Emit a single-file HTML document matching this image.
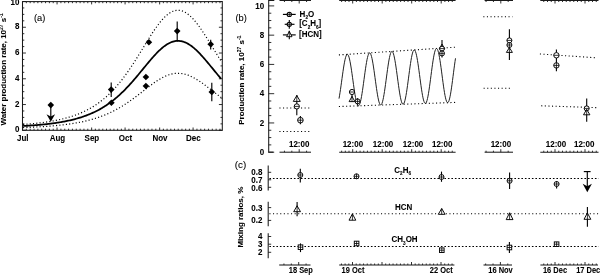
<!DOCTYPE html>
<html><head><meta charset="utf-8"><style>
html,body{margin:0;padding:0;background:#fff;}
svg{display:block;filter:grayscale(1);}
text{font-family:"Liberation Sans",sans-serif;fill:#000;stroke:#000;stroke-width:0.08px;}
</style></head><body>
<svg width="600" height="275" viewBox="0 0 600 275">
<rect width="600" height="275" fill="#fff"/>
<rect x="22.5" y="1.6" width="199.8" height="128.7" fill="none" stroke="#1a1a1a" stroke-width="1.05"/>
<line x1="22.5" y1="130.3" x2="25.9" y2="130.3" stroke="#1a1a1a" stroke-width="0.9" />
<line x1="222.3" y1="130.3" x2="218.9" y2="130.3" stroke="#1a1a1a" stroke-width="0.9" />
<line x1="22.5" y1="123.86" x2="24.3" y2="123.86" stroke="#1a1a1a" stroke-width="0.9" />
<line x1="222.3" y1="123.86" x2="220.5" y2="123.86" stroke="#1a1a1a" stroke-width="0.9" />
<line x1="22.5" y1="117.42" x2="24.3" y2="117.42" stroke="#1a1a1a" stroke-width="0.9" />
<line x1="222.3" y1="117.42" x2="220.5" y2="117.42" stroke="#1a1a1a" stroke-width="0.9" />
<line x1="22.5" y1="110.98" x2="24.3" y2="110.98" stroke="#1a1a1a" stroke-width="0.9" />
<line x1="222.3" y1="110.98" x2="220.5" y2="110.98" stroke="#1a1a1a" stroke-width="0.9" />
<line x1="22.5" y1="104.54" x2="25.9" y2="104.54" stroke="#1a1a1a" stroke-width="0.9" />
<line x1="222.3" y1="104.54" x2="218.9" y2="104.54" stroke="#1a1a1a" stroke-width="0.9" />
<line x1="22.5" y1="98.1" x2="24.3" y2="98.1" stroke="#1a1a1a" stroke-width="0.9" />
<line x1="222.3" y1="98.1" x2="220.5" y2="98.1" stroke="#1a1a1a" stroke-width="0.9" />
<line x1="22.5" y1="91.66" x2="24.3" y2="91.66" stroke="#1a1a1a" stroke-width="0.9" />
<line x1="222.3" y1="91.66" x2="220.5" y2="91.66" stroke="#1a1a1a" stroke-width="0.9" />
<line x1="22.5" y1="85.22" x2="24.3" y2="85.22" stroke="#1a1a1a" stroke-width="0.9" />
<line x1="222.3" y1="85.22" x2="220.5" y2="85.22" stroke="#1a1a1a" stroke-width="0.9" />
<line x1="22.5" y1="78.78" x2="25.9" y2="78.78" stroke="#1a1a1a" stroke-width="0.9" />
<line x1="222.3" y1="78.78" x2="218.9" y2="78.78" stroke="#1a1a1a" stroke-width="0.9" />
<line x1="22.5" y1="72.34" x2="24.3" y2="72.34" stroke="#1a1a1a" stroke-width="0.9" />
<line x1="222.3" y1="72.34" x2="220.5" y2="72.34" stroke="#1a1a1a" stroke-width="0.9" />
<line x1="22.5" y1="65.9" x2="24.3" y2="65.9" stroke="#1a1a1a" stroke-width="0.9" />
<line x1="222.3" y1="65.9" x2="220.5" y2="65.9" stroke="#1a1a1a" stroke-width="0.9" />
<line x1="22.5" y1="59.46" x2="24.3" y2="59.46" stroke="#1a1a1a" stroke-width="0.9" />
<line x1="222.3" y1="59.46" x2="220.5" y2="59.46" stroke="#1a1a1a" stroke-width="0.9" />
<line x1="22.5" y1="53.02" x2="25.9" y2="53.02" stroke="#1a1a1a" stroke-width="0.9" />
<line x1="222.3" y1="53.02" x2="218.9" y2="53.02" stroke="#1a1a1a" stroke-width="0.9" />
<line x1="22.5" y1="46.58" x2="24.3" y2="46.58" stroke="#1a1a1a" stroke-width="0.9" />
<line x1="222.3" y1="46.58" x2="220.5" y2="46.58" stroke="#1a1a1a" stroke-width="0.9" />
<line x1="22.5" y1="40.14" x2="24.3" y2="40.14" stroke="#1a1a1a" stroke-width="0.9" />
<line x1="222.3" y1="40.14" x2="220.5" y2="40.14" stroke="#1a1a1a" stroke-width="0.9" />
<line x1="22.5" y1="33.7" x2="24.3" y2="33.7" stroke="#1a1a1a" stroke-width="0.9" />
<line x1="222.3" y1="33.7" x2="220.5" y2="33.7" stroke="#1a1a1a" stroke-width="0.9" />
<line x1="22.5" y1="27.26" x2="25.9" y2="27.26" stroke="#1a1a1a" stroke-width="0.9" />
<line x1="222.3" y1="27.26" x2="218.9" y2="27.26" stroke="#1a1a1a" stroke-width="0.9" />
<line x1="22.5" y1="20.82" x2="24.3" y2="20.82" stroke="#1a1a1a" stroke-width="0.9" />
<line x1="222.3" y1="20.82" x2="220.5" y2="20.82" stroke="#1a1a1a" stroke-width="0.9" />
<line x1="22.5" y1="14.38" x2="24.3" y2="14.38" stroke="#1a1a1a" stroke-width="0.9" />
<line x1="222.3" y1="14.38" x2="220.5" y2="14.38" stroke="#1a1a1a" stroke-width="0.9" />
<line x1="22.5" y1="7.94" x2="24.3" y2="7.94" stroke="#1a1a1a" stroke-width="0.9" />
<line x1="222.3" y1="7.94" x2="220.5" y2="7.94" stroke="#1a1a1a" stroke-width="0.9" />
<line x1="22.5" y1="1.5" x2="25.9" y2="1.5" stroke="#1a1a1a" stroke-width="0.9" />
<line x1="222.3" y1="1.5" x2="218.9" y2="1.5" stroke="#1a1a1a" stroke-width="0.9" />
<line x1="26.34" y1="130.3" x2="26.34" y2="128.7" stroke="#1a1a1a" stroke-width="0.9" />
<line x1="26.34" y1="1.6" x2="26.34" y2="3.2" stroke="#1a1a1a" stroke-width="0.9" />
<line x1="30.18" y1="130.3" x2="30.18" y2="128.7" stroke="#1a1a1a" stroke-width="0.9" />
<line x1="30.18" y1="1.6" x2="30.18" y2="3.2" stroke="#1a1a1a" stroke-width="0.9" />
<line x1="34.02" y1="130.3" x2="34.02" y2="128.7" stroke="#1a1a1a" stroke-width="0.9" />
<line x1="34.02" y1="1.6" x2="34.02" y2="3.2" stroke="#1a1a1a" stroke-width="0.9" />
<line x1="37.86" y1="130.3" x2="37.86" y2="128.7" stroke="#1a1a1a" stroke-width="0.9" />
<line x1="37.86" y1="1.6" x2="37.86" y2="3.2" stroke="#1a1a1a" stroke-width="0.9" />
<line x1="41.7" y1="130.3" x2="41.7" y2="128.7" stroke="#1a1a1a" stroke-width="0.9" />
<line x1="41.7" y1="1.6" x2="41.7" y2="3.2" stroke="#1a1a1a" stroke-width="0.9" />
<line x1="45.54" y1="130.3" x2="45.54" y2="128.7" stroke="#1a1a1a" stroke-width="0.9" />
<line x1="45.54" y1="1.6" x2="45.54" y2="3.2" stroke="#1a1a1a" stroke-width="0.9" />
<line x1="49.38" y1="130.3" x2="49.38" y2="128.7" stroke="#1a1a1a" stroke-width="0.9" />
<line x1="49.38" y1="1.6" x2="49.38" y2="3.2" stroke="#1a1a1a" stroke-width="0.9" />
<line x1="53.22" y1="130.3" x2="53.22" y2="128.7" stroke="#1a1a1a" stroke-width="0.9" />
<line x1="53.22" y1="1.6" x2="53.22" y2="3.2" stroke="#1a1a1a" stroke-width="0.9" />
<line x1="57.06" y1="130.3" x2="57.06" y2="127.5" stroke="#1a1a1a" stroke-width="0.9" />
<line x1="57.06" y1="1.6" x2="57.06" y2="4.4" stroke="#1a1a1a" stroke-width="0.9" />
<line x1="60.91" y1="130.3" x2="60.91" y2="128.7" stroke="#1a1a1a" stroke-width="0.9" />
<line x1="60.91" y1="1.6" x2="60.91" y2="3.2" stroke="#1a1a1a" stroke-width="0.9" />
<line x1="64.75" y1="130.3" x2="64.75" y2="128.7" stroke="#1a1a1a" stroke-width="0.9" />
<line x1="64.75" y1="1.6" x2="64.75" y2="3.2" stroke="#1a1a1a" stroke-width="0.9" />
<line x1="68.59" y1="130.3" x2="68.59" y2="128.7" stroke="#1a1a1a" stroke-width="0.9" />
<line x1="68.59" y1="1.6" x2="68.59" y2="3.2" stroke="#1a1a1a" stroke-width="0.9" />
<line x1="72.43" y1="130.3" x2="72.43" y2="128.7" stroke="#1a1a1a" stroke-width="0.9" />
<line x1="72.43" y1="1.6" x2="72.43" y2="3.2" stroke="#1a1a1a" stroke-width="0.9" />
<line x1="76.27" y1="130.3" x2="76.27" y2="128.7" stroke="#1a1a1a" stroke-width="0.9" />
<line x1="76.27" y1="1.6" x2="76.27" y2="3.2" stroke="#1a1a1a" stroke-width="0.9" />
<line x1="80.11" y1="130.3" x2="80.11" y2="128.7" stroke="#1a1a1a" stroke-width="0.9" />
<line x1="80.11" y1="1.6" x2="80.11" y2="3.2" stroke="#1a1a1a" stroke-width="0.9" />
<line x1="83.95" y1="130.3" x2="83.95" y2="128.7" stroke="#1a1a1a" stroke-width="0.9" />
<line x1="83.95" y1="1.6" x2="83.95" y2="3.2" stroke="#1a1a1a" stroke-width="0.9" />
<line x1="87.79" y1="130.3" x2="87.79" y2="128.7" stroke="#1a1a1a" stroke-width="0.9" />
<line x1="87.79" y1="1.6" x2="87.79" y2="3.2" stroke="#1a1a1a" stroke-width="0.9" />
<line x1="91.63" y1="130.3" x2="91.63" y2="127.5" stroke="#1a1a1a" stroke-width="0.9" />
<line x1="91.63" y1="1.6" x2="91.63" y2="4.4" stroke="#1a1a1a" stroke-width="0.9" />
<line x1="95.35" y1="130.3" x2="95.35" y2="128.7" stroke="#1a1a1a" stroke-width="0.9" />
<line x1="95.35" y1="1.6" x2="95.35" y2="3.2" stroke="#1a1a1a" stroke-width="0.9" />
<line x1="99.06" y1="130.3" x2="99.06" y2="128.7" stroke="#1a1a1a" stroke-width="0.9" />
<line x1="99.06" y1="1.6" x2="99.06" y2="3.2" stroke="#1a1a1a" stroke-width="0.9" />
<line x1="102.78" y1="130.3" x2="102.78" y2="128.7" stroke="#1a1a1a" stroke-width="0.9" />
<line x1="102.78" y1="1.6" x2="102.78" y2="3.2" stroke="#1a1a1a" stroke-width="0.9" />
<line x1="106.5" y1="130.3" x2="106.5" y2="128.7" stroke="#1a1a1a" stroke-width="0.9" />
<line x1="106.5" y1="1.6" x2="106.5" y2="3.2" stroke="#1a1a1a" stroke-width="0.9" />
<line x1="110.21" y1="130.3" x2="110.21" y2="128.7" stroke="#1a1a1a" stroke-width="0.9" />
<line x1="110.21" y1="1.6" x2="110.21" y2="3.2" stroke="#1a1a1a" stroke-width="0.9" />
<line x1="113.93" y1="130.3" x2="113.93" y2="128.7" stroke="#1a1a1a" stroke-width="0.9" />
<line x1="113.93" y1="1.6" x2="113.93" y2="3.2" stroke="#1a1a1a" stroke-width="0.9" />
<line x1="117.65" y1="130.3" x2="117.65" y2="128.7" stroke="#1a1a1a" stroke-width="0.9" />
<line x1="117.65" y1="1.6" x2="117.65" y2="3.2" stroke="#1a1a1a" stroke-width="0.9" />
<line x1="121.36" y1="130.3" x2="121.36" y2="128.7" stroke="#1a1a1a" stroke-width="0.9" />
<line x1="121.36" y1="1.6" x2="121.36" y2="3.2" stroke="#1a1a1a" stroke-width="0.9" />
<line x1="125.08" y1="130.3" x2="125.08" y2="127.5" stroke="#1a1a1a" stroke-width="0.9" />
<line x1="125.08" y1="1.6" x2="125.08" y2="4.4" stroke="#1a1a1a" stroke-width="0.9" />
<line x1="128.92" y1="130.3" x2="128.92" y2="128.7" stroke="#1a1a1a" stroke-width="0.9" />
<line x1="128.92" y1="1.6" x2="128.92" y2="3.2" stroke="#1a1a1a" stroke-width="0.9" />
<line x1="132.76" y1="130.3" x2="132.76" y2="128.7" stroke="#1a1a1a" stroke-width="0.9" />
<line x1="132.76" y1="1.6" x2="132.76" y2="3.2" stroke="#1a1a1a" stroke-width="0.9" />
<line x1="136.6" y1="130.3" x2="136.6" y2="128.7" stroke="#1a1a1a" stroke-width="0.9" />
<line x1="136.6" y1="1.6" x2="136.6" y2="3.2" stroke="#1a1a1a" stroke-width="0.9" />
<line x1="140.44" y1="130.3" x2="140.44" y2="128.7" stroke="#1a1a1a" stroke-width="0.9" />
<line x1="140.44" y1="1.6" x2="140.44" y2="3.2" stroke="#1a1a1a" stroke-width="0.9" />
<line x1="144.28" y1="130.3" x2="144.28" y2="128.7" stroke="#1a1a1a" stroke-width="0.9" />
<line x1="144.28" y1="1.6" x2="144.28" y2="3.2" stroke="#1a1a1a" stroke-width="0.9" />
<line x1="148.12" y1="130.3" x2="148.12" y2="128.7" stroke="#1a1a1a" stroke-width="0.9" />
<line x1="148.12" y1="1.6" x2="148.12" y2="3.2" stroke="#1a1a1a" stroke-width="0.9" />
<line x1="151.96" y1="130.3" x2="151.96" y2="128.7" stroke="#1a1a1a" stroke-width="0.9" />
<line x1="151.96" y1="1.6" x2="151.96" y2="3.2" stroke="#1a1a1a" stroke-width="0.9" />
<line x1="155.8" y1="130.3" x2="155.8" y2="128.7" stroke="#1a1a1a" stroke-width="0.9" />
<line x1="155.8" y1="1.6" x2="155.8" y2="3.2" stroke="#1a1a1a" stroke-width="0.9" />
<line x1="159.65" y1="130.3" x2="159.65" y2="127.5" stroke="#1a1a1a" stroke-width="0.9" />
<line x1="159.65" y1="1.6" x2="159.65" y2="4.4" stroke="#1a1a1a" stroke-width="0.9" />
<line x1="163.36" y1="130.3" x2="163.36" y2="128.7" stroke="#1a1a1a" stroke-width="0.9" />
<line x1="163.36" y1="1.6" x2="163.36" y2="3.2" stroke="#1a1a1a" stroke-width="0.9" />
<line x1="167.08" y1="130.3" x2="167.08" y2="128.7" stroke="#1a1a1a" stroke-width="0.9" />
<line x1="167.08" y1="1.6" x2="167.08" y2="3.2" stroke="#1a1a1a" stroke-width="0.9" />
<line x1="170.8" y1="130.3" x2="170.8" y2="128.7" stroke="#1a1a1a" stroke-width="0.9" />
<line x1="170.8" y1="1.6" x2="170.8" y2="3.2" stroke="#1a1a1a" stroke-width="0.9" />
<line x1="174.51" y1="130.3" x2="174.51" y2="128.7" stroke="#1a1a1a" stroke-width="0.9" />
<line x1="174.51" y1="1.6" x2="174.51" y2="3.2" stroke="#1a1a1a" stroke-width="0.9" />
<line x1="178.23" y1="130.3" x2="178.23" y2="128.7" stroke="#1a1a1a" stroke-width="0.9" />
<line x1="178.23" y1="1.6" x2="178.23" y2="3.2" stroke="#1a1a1a" stroke-width="0.9" />
<line x1="181.94" y1="130.3" x2="181.94" y2="128.7" stroke="#1a1a1a" stroke-width="0.9" />
<line x1="181.94" y1="1.6" x2="181.94" y2="3.2" stroke="#1a1a1a" stroke-width="0.9" />
<line x1="185.66" y1="130.3" x2="185.66" y2="128.7" stroke="#1a1a1a" stroke-width="0.9" />
<line x1="185.66" y1="1.6" x2="185.66" y2="3.2" stroke="#1a1a1a" stroke-width="0.9" />
<line x1="189.38" y1="130.3" x2="189.38" y2="128.7" stroke="#1a1a1a" stroke-width="0.9" />
<line x1="189.38" y1="1.6" x2="189.38" y2="3.2" stroke="#1a1a1a" stroke-width="0.9" />
<line x1="193.09" y1="130.3" x2="193.09" y2="127.5" stroke="#1a1a1a" stroke-width="0.9" />
<line x1="193.09" y1="1.6" x2="193.09" y2="4.4" stroke="#1a1a1a" stroke-width="0.9" />
<line x1="196.94" y1="130.3" x2="196.94" y2="128.7" stroke="#1a1a1a" stroke-width="0.9" />
<line x1="196.94" y1="1.6" x2="196.94" y2="3.2" stroke="#1a1a1a" stroke-width="0.9" />
<line x1="200.78" y1="130.3" x2="200.78" y2="128.7" stroke="#1a1a1a" stroke-width="0.9" />
<line x1="200.78" y1="1.6" x2="200.78" y2="3.2" stroke="#1a1a1a" stroke-width="0.9" />
<line x1="204.62" y1="130.3" x2="204.62" y2="128.7" stroke="#1a1a1a" stroke-width="0.9" />
<line x1="204.62" y1="1.6" x2="204.62" y2="3.2" stroke="#1a1a1a" stroke-width="0.9" />
<line x1="208.46" y1="130.3" x2="208.46" y2="128.7" stroke="#1a1a1a" stroke-width="0.9" />
<line x1="208.46" y1="1.6" x2="208.46" y2="3.2" stroke="#1a1a1a" stroke-width="0.9" />
<line x1="212.3" y1="130.3" x2="212.3" y2="128.7" stroke="#1a1a1a" stroke-width="0.9" />
<line x1="212.3" y1="1.6" x2="212.3" y2="3.2" stroke="#1a1a1a" stroke-width="0.9" />
<line x1="216.14" y1="130.3" x2="216.14" y2="128.7" stroke="#1a1a1a" stroke-width="0.9" />
<line x1="216.14" y1="1.6" x2="216.14" y2="3.2" stroke="#1a1a1a" stroke-width="0.9" />
<line x1="219.98" y1="130.3" x2="219.98" y2="128.7" stroke="#1a1a1a" stroke-width="0.9" />
<line x1="219.98" y1="1.6" x2="219.98" y2="3.2" stroke="#1a1a1a" stroke-width="0.9" />
<text transform="translate(19.4,132) scale(0.8333,1)" font-size="9.6" text-anchor="end" font-weight="bold" >0</text>
<text transform="translate(19.4,106.74) scale(0.8333,1)" font-size="9.6" text-anchor="end" font-weight="bold" >2</text>
<text transform="translate(19.4,80.98) scale(0.8333,1)" font-size="9.6" text-anchor="end" font-weight="bold" >4</text>
<text transform="translate(19.4,55.22) scale(0.8333,1)" font-size="9.6" text-anchor="end" font-weight="bold" >6</text>
<text transform="translate(19.4,29.36) scale(0.8333,1)" font-size="9.6" text-anchor="end" font-weight="bold" >8</text>
<text transform="translate(19.4,5.3) scale(0.8333,1)" font-size="9.6" text-anchor="end" font-weight="bold" >10</text>
<text transform="translate(22.8,140.7) scale(0.8333,1)" font-size="9.6" text-anchor="middle" font-weight="bold" >Jul</text>
<text transform="translate(57.4,140.7) scale(0.8333,1)" font-size="9.6" text-anchor="middle" font-weight="bold" >Aug</text>
<text transform="translate(91.9,140.7) scale(0.8333,1)" font-size="9.6" text-anchor="middle" font-weight="bold" >Sep</text>
<text transform="translate(125.4,140.7) scale(0.8333,1)" font-size="9.6" text-anchor="middle" font-weight="bold" >Oct</text>
<text transform="translate(160,140.7) scale(0.8333,1)" font-size="9.6" text-anchor="middle" font-weight="bold" >Nov</text>
<text transform="translate(193.4,140.7) scale(0.8333,1)" font-size="9.6" text-anchor="middle" font-weight="bold" >Dec</text>
<text transform="translate(34,20.6) scale(1.06,1)" font-size="8.8" text-anchor="start" font-weight="normal" >(a)</text>
<text transform="translate(5.8,69.4) rotate(-90)" font-size="7.95" font-weight="bold" text-anchor="middle">Water production rate, 10<tspan font-size="5" dy="-3">27</tspan><tspan dy="3"> s</tspan><tspan font-size="5" dy="-3">-1</tspan></text>
<path d="M23.1,125.99 L24.1,125.94 L25.1,125.88 L26.1,125.82 L27.1,125.76 L28.1,125.69 L29.1,125.63 L30.1,125.56 L31.1,125.49 L32.1,125.42 L33.1,125.34 L34.1,125.27 L35.1,125.19 L36.1,125.11 L37.1,125.03 L38.1,124.94 L39.1,124.86 L40.1,124.76 L41.1,124.67 L42.1,124.58 L43.1,124.48 L44.1,124.38 L45.1,124.27 L46.1,124.16 L47.1,124.05 L48.1,123.94 L49.1,123.82 L50.1,123.7 L51.1,123.57 L52.1,123.44 L53.1,123.31 L54.1,123.17 L55.1,123.03 L56.1,122.88 L57.1,122.73 L58.1,122.58 L59.1,122.41 L60.1,122.25 L61.1,122.08 L62.1,121.9 L63.1,121.72 L64.1,121.54 L65.1,121.34 L66.1,121.14 L67.1,120.94 L68.1,120.73 L69.1,120.51 L70.1,120.28 L71.1,120.05 L72.1,119.81 L73.1,119.57 L74.1,119.31 L75.1,119.05 L76.1,118.78 L77.1,118.5 L78.1,118.21 L79.1,117.92 L80.1,117.61 L81.1,117.3 L82.1,116.97 L83.1,116.64 L84.1,116.29 L85.1,115.93 L86.1,115.57 L87.1,115.19 L88.1,114.8 L89.1,114.4 L90.1,113.98 L91.1,113.56 L92.1,113.12 L93.1,112.67 L94.1,112.2 L95.1,111.72 L96.1,111.23 L97.1,110.72 L98.1,110.2 L99.1,109.66 L100.1,109.11 L101.1,108.54 L102.1,107.95 L103.1,107.35 L104.1,106.73 L105.1,106.1 L106.1,105.44 L107.1,104.77 L108.1,104.09 L109.1,103.38 L110.1,102.66 L111.1,101.91 L112.1,101.15 L113.1,100.37 L114.1,99.57 L115.1,98.75 L116.1,97.92 L117.1,97.06 L118.1,96.18 L119.1,95.29 L120.1,94.37 L121.1,93.44 L122.1,92.48 L123.1,91.51 L124.1,90.52 L125.1,89.51 L126.1,88.48 L127.1,87.43 L128.1,86.37 L129.1,85.29 L130.1,84.2 L131.1,83.08 L132.1,81.96 L133.1,80.82 L134.1,79.66 L135.1,78.5 L136.1,77.32 L137.1,76.14 L138.1,74.94 L139.1,73.74 L140.1,72.53 L141.1,71.31 L142.1,70.1 L143.1,68.88 L144.1,67.66 L145.1,66.44 L146.1,65.23 L147.1,64.02 L148.1,62.82 L149.1,61.63 L150.1,60.45 L151.1,59.28 L152.1,58.13 L153.1,57 L154.1,55.89 L155.1,54.8 L156.1,53.74 L157.1,52.7 L158.1,51.69 L159.1,50.72 L160.1,49.78 L161.1,48.87 L162.1,48.01 L163.1,47.18 L164.1,46.4 L165.1,45.67 L166.1,44.97 L167.1,44.33 L168.1,43.74 L169.1,43.2 L170.1,42.72 L171.1,42.28 L172.1,41.91 L173.1,41.59 L174.1,41.33 L175.1,41.13 L176.1,40.98 L177.1,40.9 L178.1,40.88 L179.1,40.91 L180.1,41.01 L181.1,41.17 L182.1,41.38 L183.1,41.65 L184.1,41.98 L185.1,42.37 L186.1,42.82 L187.1,43.31 L188.1,43.86 L189.1,44.47 L190.1,45.12 L191.1,45.82 L192.1,46.56 L193.1,47.36 L194.1,48.19 L195.1,49.06 L196.1,49.98 L197.1,50.92 L198.1,51.91 L199.1,52.92 L200.1,53.96 L201.1,55.03 L202.1,56.12 L203.1,57.24 L204.1,58.37 L205.1,59.53 L206.1,60.7 L207.1,61.88 L208.1,63.07 L209.1,64.28 L210.1,65.48 L211.1,66.7 L212.1,67.92 L213.1,69.14 L214.1,70.36 L215.1,71.57 L216.1,72.79 L217.1,73.99 L218.1,75.2 L219.1,76.39 L220.1,77.57 L221.1,78.75" fill="none" stroke="#000" stroke-width="1.75" />
<path d="M23.1,124.52 L24.1,124.44 L25.1,124.36 L26.1,124.28 L27.1,124.2 L28.1,124.11 L29.1,124.03 L30.1,123.94 L31.1,123.84 L32.1,123.75 L33.1,123.65 L34.1,123.55 L35.1,123.44 L36.1,123.33 L37.1,123.22 L38.1,123.11 L39.1,122.99 L40.1,122.87 L41.1,122.74 L42.1,122.62 L43.1,122.48 L44.1,122.35 L45.1,122.21 L46.1,122.06 L47.1,121.91 L48.1,121.76 L49.1,121.6 L50.1,121.43 L51.1,121.27 L52.1,121.09 L53.1,120.91 L54.1,120.73 L55.1,120.54 L56.1,120.34 L57.1,120.14 L58.1,119.93 L59.1,119.72 L60.1,119.49 L61.1,119.26 L62.1,119.03 L63.1,118.79 L64.1,118.53 L65.1,118.28 L66.1,118.01 L67.1,117.73 L68.1,117.45 L69.1,117.16 L70.1,116.86 L71.1,116.54 L72.1,116.22 L73.1,115.89 L74.1,115.55 L75.1,115.2 L76.1,114.84 L77.1,114.46 L78.1,114.07 L79.1,113.68 L80.1,113.27 L81.1,112.84 L82.1,112.41 L83.1,111.96 L84.1,111.49 L85.1,111.02 L86.1,110.52 L87.1,110.02 L88.1,109.49 L89.1,108.95 L90.1,108.4 L91.1,107.83 L92.1,107.24 L93.1,106.63 L94.1,106 L95.1,105.36 L96.1,104.7 L97.1,104.02 L98.1,103.31 L99.1,102.59 L100.1,101.85 L101.1,101.09 L102.1,100.3 L103.1,99.49 L104.1,98.66 L105.1,97.81 L106.1,96.93 L107.1,96.03 L108.1,95.11 L109.1,94.16 L110.1,93.19 L111.1,92.19 L112.1,91.17 L113.1,90.12 L114.1,89.05 L115.1,87.95 L116.1,86.83 L117.1,85.68 L118.1,84.5 L119.1,83.3 L120.1,82.07 L121.1,80.81 L122.1,79.53 L123.1,78.23 L124.1,76.9 L125.1,75.54 L126.1,74.16 L127.1,72.76 L128.1,71.33 L129.1,69.88 L130.1,68.41 L131.1,66.92 L132.1,65.41 L133.1,63.88 L134.1,62.33 L135.1,60.76 L136.1,59.18 L137.1,57.59 L138.1,55.99 L139.1,54.37 L140.1,52.75 L141.1,51.12 L142.1,49.48 L143.1,47.85 L144.1,46.21 L145.1,44.58 L146.1,42.95 L147.1,41.32 L148.1,39.71 L149.1,38.11 L150.1,36.53 L151.1,34.96 L152.1,33.42 L153.1,31.9 L154.1,30.41 L155.1,28.95 L156.1,27.52 L157.1,26.13 L158.1,24.78 L159.1,23.47 L160.1,22.21 L161.1,20.99 L162.1,19.83 L163.1,18.73 L164.1,17.68 L165.1,16.69 L166.1,15.76 L167.1,14.9 L168.1,14.11 L169.1,13.38 L170.1,12.73 L171.1,12.15 L172.1,11.65 L173.1,11.22 L174.1,10.87 L175.1,10.6 L176.1,10.4 L177.1,10.29 L178.1,10.26 L179.1,10.31 L180.1,10.44 L181.1,10.65 L182.1,10.94 L183.1,11.3 L184.1,11.75 L185.1,12.27 L186.1,12.86 L187.1,13.53 L188.1,14.27 L189.1,15.08 L190.1,15.95 L191.1,16.89 L192.1,17.9 L193.1,18.96 L194.1,20.08 L195.1,21.25 L196.1,22.47 L197.1,23.75 L198.1,25.06 L199.1,26.42 L200.1,27.82 L201.1,29.26 L202.1,30.73 L203.1,32.22 L204.1,33.75 L205.1,35.3 L206.1,36.87 L207.1,38.45 L208.1,40.05 L209.1,41.67 L210.1,43.29 L211.1,44.92 L212.1,46.56 L213.1,48.19 L214.1,49.83 L215.1,51.46 L216.1,53.09 L217.1,54.72 L218.1,56.33 L219.1,57.93 L220.1,59.52 L221.1,61.1" fill="none" stroke="#000" stroke-width="1.2" stroke-dasharray="1.1 2.2"/>
<path d="M23.1,127.55 L24.1,127.52 L25.1,127.48 L26.1,127.44 L27.1,127.4 L28.1,127.36 L29.1,127.32 L30.1,127.28 L31.1,127.23 L32.1,127.19 L33.1,127.14 L34.1,127.09 L35.1,127.04 L36.1,126.99 L37.1,126.94 L38.1,126.88 L39.1,126.83 L40.1,126.77 L41.1,126.71 L42.1,126.65 L43.1,126.59 L44.1,126.52 L45.1,126.46 L46.1,126.39 L47.1,126.32 L48.1,126.24 L49.1,126.17 L50.1,126.09 L51.1,126.01 L52.1,125.93 L53.1,125.84 L54.1,125.75 L55.1,125.66 L56.1,125.57 L57.1,125.47 L58.1,125.37 L59.1,125.27 L60.1,125.17 L61.1,125.06 L62.1,124.95 L63.1,124.83 L64.1,124.71 L65.1,124.59 L66.1,124.46 L67.1,124.33 L68.1,124.2 L69.1,124.06 L70.1,123.91 L71.1,123.77 L72.1,123.61 L73.1,123.46 L74.1,123.29 L75.1,123.13 L76.1,122.95 L77.1,122.78 L78.1,122.59 L79.1,122.4 L80.1,122.21 L81.1,122.01 L82.1,121.8 L83.1,121.59 L84.1,121.37 L85.1,121.14 L86.1,120.91 L87.1,120.66 L88.1,120.42 L89.1,120.16 L90.1,119.9 L91.1,119.62 L92.1,119.34 L93.1,119.06 L94.1,118.76 L95.1,118.45 L96.1,118.14 L97.1,117.81 L98.1,117.48 L99.1,117.14 L100.1,116.79 L101.1,116.42 L102.1,116.05 L103.1,115.67 L104.1,115.27 L105.1,114.87 L106.1,114.45 L107.1,114.02 L108.1,113.58 L109.1,113.13 L110.1,112.67 L111.1,112.2 L112.1,111.71 L113.1,111.22 L114.1,110.71 L115.1,110.18 L116.1,109.65 L117.1,109.1 L118.1,108.54 L119.1,107.97 L120.1,107.39 L121.1,106.79 L122.1,106.19 L123.1,105.57 L124.1,104.93 L125.1,104.29 L126.1,103.63 L127.1,102.97 L128.1,102.29 L129.1,101.6 L130.1,100.9 L131.1,100.19 L132.1,99.47 L133.1,98.75 L134.1,98.01 L135.1,97.27 L136.1,96.52 L137.1,95.76 L138.1,95 L139.1,94.23 L140.1,93.46 L141.1,92.69 L142.1,91.91 L143.1,91.13 L144.1,90.36 L145.1,89.58 L146.1,88.81 L147.1,88.04 L148.1,87.27 L149.1,86.51 L150.1,85.76 L151.1,85.01 L152.1,84.28 L153.1,83.56 L154.1,82.85 L155.1,82.16 L156.1,81.48 L157.1,80.82 L158.1,80.18 L159.1,79.55 L160.1,78.96 L161.1,78.38 L162.1,77.83 L163.1,77.3 L164.1,76.8 L165.1,76.33 L166.1,75.89 L167.1,75.48 L168.1,75.11 L169.1,74.76 L170.1,74.45 L171.1,74.18 L172.1,73.94 L173.1,73.73 L174.1,73.57 L175.1,73.44 L176.1,73.35 L177.1,73.3 L178.1,73.28 L179.1,73.3 L180.1,73.36 L181.1,73.46 L182.1,73.6 L183.1,73.77 L184.1,73.99 L185.1,74.23 L186.1,74.52 L187.1,74.83 L188.1,75.18 L189.1,75.57 L190.1,75.98 L191.1,76.43 L192.1,76.91 L193.1,77.41 L194.1,77.94 L195.1,78.5 L196.1,79.08 L197.1,79.69 L198.1,80.31 L199.1,80.96 L200.1,81.62 L201.1,82.3 L202.1,83 L203.1,83.71 L204.1,84.44 L205.1,85.17 L206.1,85.92 L207.1,86.67 L208.1,87.43 L209.1,88.2 L210.1,88.97 L211.1,89.74 L212.1,90.52 L213.1,91.3 L214.1,92.08 L215.1,92.85 L216.1,93.63 L217.1,94.4 L218.1,95.16 L219.1,95.92 L220.1,96.68 L221.1,97.43" fill="none" stroke="#000" stroke-width="1.2" stroke-dasharray="1.1 2.2"/>
<line x1="111.2" y1="82.4" x2="111.2" y2="96.9" stroke="#000" stroke-width="1.15" />
<line x1="177.2" y1="21.6" x2="177.2" y2="41.5" stroke="#000" stroke-width="1.15" />
<line x1="210.7" y1="39.8" x2="210.7" y2="49.6" stroke="#000" stroke-width="1.15" />
<line x1="211.8" y1="82.7" x2="211.8" y2="101.2" stroke="#000" stroke-width="1.15" />
<line x1="50.8" y1="105" x2="50.8" y2="118" stroke="#000" stroke-width="1.15" />
<path d="M46.5,114.2 L50.8,121.7 L55.1,114.2 L50.8,116.4 Z" fill="#000"/>
<path d="M50.8,101.8 L54.1,105.1 L50.8,108.4 L47.5,105.1 Z" fill="#000"/>
<path d="M111.2,86.3 L114.5,89.6 L111.2,92.9 L107.9,89.6 Z" fill="#000"/>
<path d="M111.4,99.4 L114.7,102.7 L111.4,106 L108.1,102.7 Z" fill="#000"/>
<path d="M145.9,73.7 L149.2,77 L145.9,80.3 L142.6,77 Z" fill="#000"/>
<path d="M145.9,82.7 L149.2,86 L145.9,89.3 L142.6,86 Z" fill="#000"/>
<path d="M148.9,39 L152.2,42.3 L148.9,45.6 L145.6,42.3 Z" fill="#000"/>
<path d="M177.2,27.8 L180.5,31.1 L177.2,34.4 L173.9,31.1 Z" fill="#000"/>
<path d="M210.7,40.9 L214,44.2 L210.7,47.5 L207.4,44.2 Z" fill="#000"/>
<path d="M211.8,88.7 L215.1,92 L211.8,95.3 L208.5,92 Z" fill="#000"/>
<line x1="268.7" y1="0" x2="268.7" y2="152.7" stroke="#1a1a1a" stroke-width="1.05" />
<line x1="268.7" y1="152.2" x2="274.2" y2="152.2" stroke="#1a1a1a" stroke-width="0.9" />
<line x1="268.7" y1="144.88" x2="271.3" y2="144.88" stroke="#1a1a1a" stroke-width="0.9" />
<line x1="268.7" y1="137.57" x2="271.3" y2="137.57" stroke="#1a1a1a" stroke-width="0.9" />
<line x1="268.7" y1="130.25" x2="271.3" y2="130.25" stroke="#1a1a1a" stroke-width="0.9" />
<line x1="268.7" y1="122.94" x2="274.2" y2="122.94" stroke="#1a1a1a" stroke-width="0.9" />
<line x1="268.7" y1="115.62" x2="271.3" y2="115.62" stroke="#1a1a1a" stroke-width="0.9" />
<line x1="268.7" y1="108.31" x2="271.3" y2="108.31" stroke="#1a1a1a" stroke-width="0.9" />
<line x1="268.7" y1="100.99" x2="271.3" y2="100.99" stroke="#1a1a1a" stroke-width="0.9" />
<line x1="268.7" y1="93.68" x2="274.2" y2="93.68" stroke="#1a1a1a" stroke-width="0.9" />
<line x1="268.7" y1="86.36" x2="271.3" y2="86.36" stroke="#1a1a1a" stroke-width="0.9" />
<line x1="268.7" y1="79.05" x2="271.3" y2="79.05" stroke="#1a1a1a" stroke-width="0.9" />
<line x1="268.7" y1="71.73" x2="271.3" y2="71.73" stroke="#1a1a1a" stroke-width="0.9" />
<line x1="268.7" y1="64.42" x2="274.2" y2="64.42" stroke="#1a1a1a" stroke-width="0.9" />
<line x1="268.7" y1="57.1" x2="271.3" y2="57.1" stroke="#1a1a1a" stroke-width="0.9" />
<line x1="268.7" y1="49.79" x2="271.3" y2="49.79" stroke="#1a1a1a" stroke-width="0.9" />
<line x1="268.7" y1="42.47" x2="271.3" y2="42.47" stroke="#1a1a1a" stroke-width="0.9" />
<line x1="268.7" y1="35.16" x2="274.2" y2="35.16" stroke="#1a1a1a" stroke-width="0.9" />
<line x1="268.7" y1="27.84" x2="271.3" y2="27.84" stroke="#1a1a1a" stroke-width="0.9" />
<line x1="268.7" y1="20.53" x2="271.3" y2="20.53" stroke="#1a1a1a" stroke-width="0.9" />
<line x1="268.7" y1="13.21" x2="271.3" y2="13.21" stroke="#1a1a1a" stroke-width="0.9" />
<line x1="268.7" y1="5.9" x2="274.2" y2="5.9" stroke="#1a1a1a" stroke-width="0.9" />
<text transform="translate(264.2,154.8) scale(0.8333,1)" font-size="9.6" text-anchor="end" font-weight="bold" >0</text>
<text transform="translate(264.2,125.54) scale(0.8333,1)" font-size="9.6" text-anchor="end" font-weight="bold" >2</text>
<text transform="translate(264.2,96.28) scale(0.8333,1)" font-size="9.6" text-anchor="end" font-weight="bold" >4</text>
<text transform="translate(264.2,67.02) scale(0.8333,1)" font-size="9.6" text-anchor="end" font-weight="bold" >6</text>
<text transform="translate(264.2,37.76) scale(0.8333,1)" font-size="9.6" text-anchor="end" font-weight="bold" >8</text>
<text transform="translate(264.2,8.5) scale(0.8333,1)" font-size="9.6" text-anchor="end" font-weight="bold" >10</text>
<text transform="translate(235.4,20.8) scale(1.06,1)" font-size="8.8" text-anchor="start" font-weight="normal" >(b)</text>
<text transform="translate(243.9,80.2) rotate(-90)" font-size="8" font-weight="bold" text-anchor="middle">Production rate, 10<tspan font-size="5" dy="-3">27</tspan><tspan dy="3"> s</tspan><tspan font-size="5" dy="-3">-1</tspan></text>
<line x1="268.7" y1="0.5" x2="274.3" y2="0.5" stroke="#1a1a1a" stroke-width="1.05" />
<line x1="268.7" y1="152.2" x2="273.3" y2="152.2" stroke="#1a1a1a" stroke-width="1.05" />
<line x1="279.5" y1="0.5" x2="311" y2="0.5" stroke="#1a1a1a" stroke-width="1.05" />
<line x1="284.45" y1="0.5" x2="284.45" y2="2" stroke="#1a1a1a" stroke-width="0.9" />
<line x1="291.82" y1="0.5" x2="291.82" y2="2" stroke="#1a1a1a" stroke-width="0.9" />
<line x1="299.2" y1="0.5" x2="299.2" y2="3.5" stroke="#1a1a1a" stroke-width="0.9" />
<line x1="306.57" y1="0.5" x2="306.57" y2="2" stroke="#1a1a1a" stroke-width="0.9" />
<line x1="279.5" y1="152.2" x2="311" y2="152.2" stroke="#1a1a1a" stroke-width="1.05" />
<line x1="284.45" y1="152.2" x2="284.45" y2="150.7" stroke="#1a1a1a" stroke-width="0.9" />
<line x1="291.82" y1="152.2" x2="291.82" y2="150.7" stroke="#1a1a1a" stroke-width="0.9" />
<line x1="299.2" y1="152.2" x2="299.2" y2="149.2" stroke="#1a1a1a" stroke-width="0.9" />
<line x1="306.57" y1="152.2" x2="306.57" y2="150.7" stroke="#1a1a1a" stroke-width="0.9" />
<line x1="339.2" y1="0.5" x2="455.6" y2="0.5" stroke="#1a1a1a" stroke-width="1.05" />
<line x1="341.64" y1="0.5" x2="341.64" y2="2" stroke="#1a1a1a" stroke-width="0.9" />
<line x1="345.32" y1="0.5" x2="345.32" y2="2" stroke="#1a1a1a" stroke-width="0.9" />
<line x1="349.01" y1="0.5" x2="349.01" y2="2" stroke="#1a1a1a" stroke-width="0.9" />
<line x1="352.7" y1="0.5" x2="352.7" y2="3.5" stroke="#1a1a1a" stroke-width="0.9" />
<line x1="356.39" y1="0.5" x2="356.39" y2="2" stroke="#1a1a1a" stroke-width="0.9" />
<line x1="360.07" y1="0.5" x2="360.07" y2="2" stroke="#1a1a1a" stroke-width="0.9" />
<line x1="363.76" y1="0.5" x2="363.76" y2="2" stroke="#1a1a1a" stroke-width="0.9" />
<line x1="367.45" y1="0.5" x2="367.45" y2="2" stroke="#1a1a1a" stroke-width="0.9" />
<line x1="371.14" y1="0.5" x2="371.14" y2="2" stroke="#1a1a1a" stroke-width="0.9" />
<line x1="374.82" y1="0.5" x2="374.82" y2="2" stroke="#1a1a1a" stroke-width="0.9" />
<line x1="378.51" y1="0.5" x2="378.51" y2="2" stroke="#1a1a1a" stroke-width="0.9" />
<line x1="382.2" y1="0.5" x2="382.2" y2="3.5" stroke="#1a1a1a" stroke-width="0.9" />
<line x1="385.89" y1="0.5" x2="385.89" y2="2" stroke="#1a1a1a" stroke-width="0.9" />
<line x1="389.57" y1="0.5" x2="389.57" y2="2" stroke="#1a1a1a" stroke-width="0.9" />
<line x1="393.26" y1="0.5" x2="393.26" y2="2" stroke="#1a1a1a" stroke-width="0.9" />
<line x1="396.95" y1="0.5" x2="396.95" y2="2" stroke="#1a1a1a" stroke-width="0.9" />
<line x1="400.64" y1="0.5" x2="400.64" y2="2" stroke="#1a1a1a" stroke-width="0.9" />
<line x1="404.32" y1="0.5" x2="404.32" y2="2" stroke="#1a1a1a" stroke-width="0.9" />
<line x1="408.01" y1="0.5" x2="408.01" y2="2" stroke="#1a1a1a" stroke-width="0.9" />
<line x1="411.7" y1="0.5" x2="411.7" y2="3.5" stroke="#1a1a1a" stroke-width="0.9" />
<line x1="415.39" y1="0.5" x2="415.39" y2="2" stroke="#1a1a1a" stroke-width="0.9" />
<line x1="419.07" y1="0.5" x2="419.07" y2="2" stroke="#1a1a1a" stroke-width="0.9" />
<line x1="422.76" y1="0.5" x2="422.76" y2="2" stroke="#1a1a1a" stroke-width="0.9" />
<line x1="426.45" y1="0.5" x2="426.45" y2="2" stroke="#1a1a1a" stroke-width="0.9" />
<line x1="430.14" y1="0.5" x2="430.14" y2="2" stroke="#1a1a1a" stroke-width="0.9" />
<line x1="433.82" y1="0.5" x2="433.82" y2="2" stroke="#1a1a1a" stroke-width="0.9" />
<line x1="437.51" y1="0.5" x2="437.51" y2="2" stroke="#1a1a1a" stroke-width="0.9" />
<line x1="441.2" y1="0.5" x2="441.2" y2="3.5" stroke="#1a1a1a" stroke-width="0.9" />
<line x1="444.89" y1="0.5" x2="444.89" y2="2" stroke="#1a1a1a" stroke-width="0.9" />
<line x1="448.57" y1="0.5" x2="448.57" y2="2" stroke="#1a1a1a" stroke-width="0.9" />
<line x1="452.26" y1="0.5" x2="452.26" y2="2" stroke="#1a1a1a" stroke-width="0.9" />
<line x1="339.2" y1="152.2" x2="455.6" y2="152.2" stroke="#1a1a1a" stroke-width="1.05" />
<line x1="341.64" y1="152.2" x2="341.64" y2="150.7" stroke="#1a1a1a" stroke-width="0.9" />
<line x1="345.32" y1="152.2" x2="345.32" y2="150.7" stroke="#1a1a1a" stroke-width="0.9" />
<line x1="349.01" y1="152.2" x2="349.01" y2="150.7" stroke="#1a1a1a" stroke-width="0.9" />
<line x1="352.7" y1="152.2" x2="352.7" y2="149.2" stroke="#1a1a1a" stroke-width="0.9" />
<line x1="356.39" y1="152.2" x2="356.39" y2="150.7" stroke="#1a1a1a" stroke-width="0.9" />
<line x1="360.07" y1="152.2" x2="360.07" y2="150.7" stroke="#1a1a1a" stroke-width="0.9" />
<line x1="363.76" y1="152.2" x2="363.76" y2="150.7" stroke="#1a1a1a" stroke-width="0.9" />
<line x1="367.45" y1="152.2" x2="367.45" y2="150.7" stroke="#1a1a1a" stroke-width="0.9" />
<line x1="371.14" y1="152.2" x2="371.14" y2="150.7" stroke="#1a1a1a" stroke-width="0.9" />
<line x1="374.82" y1="152.2" x2="374.82" y2="150.7" stroke="#1a1a1a" stroke-width="0.9" />
<line x1="378.51" y1="152.2" x2="378.51" y2="150.7" stroke="#1a1a1a" stroke-width="0.9" />
<line x1="382.2" y1="152.2" x2="382.2" y2="149.2" stroke="#1a1a1a" stroke-width="0.9" />
<line x1="385.89" y1="152.2" x2="385.89" y2="150.7" stroke="#1a1a1a" stroke-width="0.9" />
<line x1="389.57" y1="152.2" x2="389.57" y2="150.7" stroke="#1a1a1a" stroke-width="0.9" />
<line x1="393.26" y1="152.2" x2="393.26" y2="150.7" stroke="#1a1a1a" stroke-width="0.9" />
<line x1="396.95" y1="152.2" x2="396.95" y2="150.7" stroke="#1a1a1a" stroke-width="0.9" />
<line x1="400.64" y1="152.2" x2="400.64" y2="150.7" stroke="#1a1a1a" stroke-width="0.9" />
<line x1="404.32" y1="152.2" x2="404.32" y2="150.7" stroke="#1a1a1a" stroke-width="0.9" />
<line x1="408.01" y1="152.2" x2="408.01" y2="150.7" stroke="#1a1a1a" stroke-width="0.9" />
<line x1="411.7" y1="152.2" x2="411.7" y2="149.2" stroke="#1a1a1a" stroke-width="0.9" />
<line x1="415.39" y1="152.2" x2="415.39" y2="150.7" stroke="#1a1a1a" stroke-width="0.9" />
<line x1="419.07" y1="152.2" x2="419.07" y2="150.7" stroke="#1a1a1a" stroke-width="0.9" />
<line x1="422.76" y1="152.2" x2="422.76" y2="150.7" stroke="#1a1a1a" stroke-width="0.9" />
<line x1="426.45" y1="152.2" x2="426.45" y2="150.7" stroke="#1a1a1a" stroke-width="0.9" />
<line x1="430.14" y1="152.2" x2="430.14" y2="150.7" stroke="#1a1a1a" stroke-width="0.9" />
<line x1="433.82" y1="152.2" x2="433.82" y2="150.7" stroke="#1a1a1a" stroke-width="0.9" />
<line x1="437.51" y1="152.2" x2="437.51" y2="150.7" stroke="#1a1a1a" stroke-width="0.9" />
<line x1="441.2" y1="152.2" x2="441.2" y2="149.2" stroke="#1a1a1a" stroke-width="0.9" />
<line x1="444.89" y1="152.2" x2="444.89" y2="150.7" stroke="#1a1a1a" stroke-width="0.9" />
<line x1="448.57" y1="152.2" x2="448.57" y2="150.7" stroke="#1a1a1a" stroke-width="0.9" />
<line x1="452.26" y1="152.2" x2="452.26" y2="150.7" stroke="#1a1a1a" stroke-width="0.9" />
<line x1="484.6" y1="0.5" x2="513" y2="0.5" stroke="#1a1a1a" stroke-width="1.05" />
<line x1="486.05" y1="0.5" x2="486.05" y2="2" stroke="#1a1a1a" stroke-width="0.9" />
<line x1="493.43" y1="0.5" x2="493.43" y2="2" stroke="#1a1a1a" stroke-width="0.9" />
<line x1="500.8" y1="0.5" x2="500.8" y2="3.5" stroke="#1a1a1a" stroke-width="0.9" />
<line x1="508.18" y1="0.5" x2="508.18" y2="2" stroke="#1a1a1a" stroke-width="0.9" />
<line x1="484.6" y1="152.2" x2="513" y2="152.2" stroke="#1a1a1a" stroke-width="1.05" />
<line x1="486.05" y1="152.2" x2="486.05" y2="150.7" stroke="#1a1a1a" stroke-width="0.9" />
<line x1="493.43" y1="152.2" x2="493.43" y2="150.7" stroke="#1a1a1a" stroke-width="0.9" />
<line x1="500.8" y1="152.2" x2="500.8" y2="149.2" stroke="#1a1a1a" stroke-width="0.9" />
<line x1="508.18" y1="152.2" x2="508.18" y2="150.7" stroke="#1a1a1a" stroke-width="0.9" />
<line x1="540.3" y1="0.5" x2="598.5" y2="0.5" stroke="#1a1a1a" stroke-width="1.05" />
<line x1="543.75" y1="0.5" x2="543.75" y2="2" stroke="#1a1a1a" stroke-width="0.9" />
<line x1="547.5" y1="0.5" x2="547.5" y2="2" stroke="#1a1a1a" stroke-width="0.9" />
<line x1="551.25" y1="0.5" x2="551.25" y2="2" stroke="#1a1a1a" stroke-width="0.9" />
<line x1="555" y1="0.5" x2="555" y2="3.5" stroke="#1a1a1a" stroke-width="0.9" />
<line x1="558.75" y1="0.5" x2="558.75" y2="2" stroke="#1a1a1a" stroke-width="0.9" />
<line x1="562.5" y1="0.5" x2="562.5" y2="2" stroke="#1a1a1a" stroke-width="0.9" />
<line x1="566.25" y1="0.5" x2="566.25" y2="2" stroke="#1a1a1a" stroke-width="0.9" />
<line x1="570" y1="0.5" x2="570" y2="2" stroke="#1a1a1a" stroke-width="0.9" />
<line x1="573.75" y1="0.5" x2="573.75" y2="2" stroke="#1a1a1a" stroke-width="0.9" />
<line x1="577.5" y1="0.5" x2="577.5" y2="2" stroke="#1a1a1a" stroke-width="0.9" />
<line x1="581.25" y1="0.5" x2="581.25" y2="2" stroke="#1a1a1a" stroke-width="0.9" />
<line x1="585" y1="0.5" x2="585" y2="3.5" stroke="#1a1a1a" stroke-width="0.9" />
<line x1="588.75" y1="0.5" x2="588.75" y2="2" stroke="#1a1a1a" stroke-width="0.9" />
<line x1="592.5" y1="0.5" x2="592.5" y2="2" stroke="#1a1a1a" stroke-width="0.9" />
<line x1="596.25" y1="0.5" x2="596.25" y2="2" stroke="#1a1a1a" stroke-width="0.9" />
<line x1="540.3" y1="152.2" x2="598.5" y2="152.2" stroke="#1a1a1a" stroke-width="1.05" />
<line x1="543.75" y1="152.2" x2="543.75" y2="150.7" stroke="#1a1a1a" stroke-width="0.9" />
<line x1="547.5" y1="152.2" x2="547.5" y2="150.7" stroke="#1a1a1a" stroke-width="0.9" />
<line x1="551.25" y1="152.2" x2="551.25" y2="150.7" stroke="#1a1a1a" stroke-width="0.9" />
<line x1="555" y1="152.2" x2="555" y2="149.2" stroke="#1a1a1a" stroke-width="0.9" />
<line x1="558.75" y1="152.2" x2="558.75" y2="150.7" stroke="#1a1a1a" stroke-width="0.9" />
<line x1="562.5" y1="152.2" x2="562.5" y2="150.7" stroke="#1a1a1a" stroke-width="0.9" />
<line x1="566.25" y1="152.2" x2="566.25" y2="150.7" stroke="#1a1a1a" stroke-width="0.9" />
<line x1="570" y1="152.2" x2="570" y2="150.7" stroke="#1a1a1a" stroke-width="0.9" />
<line x1="573.75" y1="152.2" x2="573.75" y2="150.7" stroke="#1a1a1a" stroke-width="0.9" />
<line x1="577.5" y1="152.2" x2="577.5" y2="150.7" stroke="#1a1a1a" stroke-width="0.9" />
<line x1="581.25" y1="152.2" x2="581.25" y2="150.7" stroke="#1a1a1a" stroke-width="0.9" />
<line x1="585" y1="152.2" x2="585" y2="149.2" stroke="#1a1a1a" stroke-width="0.9" />
<line x1="588.75" y1="152.2" x2="588.75" y2="150.7" stroke="#1a1a1a" stroke-width="0.9" />
<line x1="592.5" y1="152.2" x2="592.5" y2="150.7" stroke="#1a1a1a" stroke-width="0.9" />
<line x1="596.25" y1="152.2" x2="596.25" y2="150.7" stroke="#1a1a1a" stroke-width="0.9" />
<text transform="translate(299.2,147) scale(0.8333,1)" font-size="9.6" text-anchor="middle" font-weight="bold" >12:00</text>
<text transform="translate(352.9,147) scale(0.8333,1)" font-size="9.6" text-anchor="middle" font-weight="bold" >12:00</text>
<text transform="translate(383.1,147) scale(0.8333,1)" font-size="9.6" text-anchor="middle" font-weight="bold" >12:00</text>
<text transform="translate(413.1,147) scale(0.8333,1)" font-size="9.6" text-anchor="middle" font-weight="bold" >12:00</text>
<text transform="translate(442.2,147) scale(0.8333,1)" font-size="9.6" text-anchor="middle" font-weight="bold" >12:00</text>
<text transform="translate(500.9,147) scale(0.8333,1)" font-size="9.6" text-anchor="middle" font-weight="bold" >12:00</text>
<text transform="translate(556,147) scale(0.8333,1)" font-size="9.6" text-anchor="middle" font-weight="bold" >12:00</text>
<text transform="translate(584.2,147) scale(0.8333,1)" font-size="9.6" text-anchor="middle" font-weight="bold" >12:00</text>
<line x1="279.4" y1="108" x2="309.6" y2="108" stroke="#000" stroke-width="1.1" stroke-dasharray="1.1 2.5"/>
<line x1="279.4" y1="131.5" x2="309.6" y2="131.5" stroke="#000" stroke-width="1.1" stroke-dasharray="1.1 2.5"/>
<line x1="338.9" y1="54.9" x2="455.6" y2="47.2" stroke="#000" stroke-width="1.1" stroke-dasharray="1.1 2.5"/>
<line x1="338.9" y1="106.5" x2="455.6" y2="102.4" stroke="#000" stroke-width="1.1" stroke-dasharray="1.1 2.5"/>
<line x1="483.3" y1="16.8" x2="512.5" y2="16.8" stroke="#000" stroke-width="1.1" stroke-dasharray="1.1 2.5"/>
<line x1="483.6" y1="88.2" x2="512.3" y2="88.2" stroke="#000" stroke-width="1.1" stroke-dasharray="1.1 2.5"/>
<line x1="539.9" y1="54" x2="596.5" y2="57.8" stroke="#000" stroke-width="1.1" stroke-dasharray="1.1 2.5"/>
<line x1="541.2" y1="105.8" x2="597.8" y2="107.7" stroke="#000" stroke-width="1.1" stroke-dasharray="1.1 2.5"/>
<path d="M339,98.62 L339.5,95.81 L340,92.7 L340.5,89.36 L341,85.83 L341.5,82.21 L342,78.54 L342.5,74.92 L343,71.4 L343.5,68.06 L344,64.97 L344.5,62.18 L345,59.75 L345.5,57.72 L346,56.15 L346.5,55.05 L347,54.46 L347.5,54.37 L348,54.8 L348.5,55.74 L349,57.15 L349.5,59.03 L350,61.33 L350.5,64 L351,66.99 L351.5,70.24 L352,73.69 L352.5,77.27 L353,80.9 L353.5,84.52 L354,88.05 L354.5,91.42 L355,94.57 L355.5,97.42 L356,99.93 L356.5,102.04 L357,103.72 L357.5,104.92 L358,105.62 L358.5,105.81 L359,105.48 L359.5,104.64 L360,103.31 L360.5,101.5 L361,99.26 L361.5,96.63 L362,93.66 L362.5,90.41 L363,86.94 L363.5,83.31 L364,79.62 L364.5,75.91 L365,72.27 L365.5,68.77 L366,65.48 L366.5,62.46 L367,59.78 L367.5,57.47 L368,55.6 L368.5,54.2 L369,53.29 L369.5,52.89 L370,53.01 L370.5,53.66 L371,54.8 L371.5,56.43 L372,58.51 L372.5,60.99 L373,63.83 L373.5,66.98 L374,70.36 L374.5,73.92 L375,77.58 L375.5,81.26 L376,84.9 L376.5,88.42 L377,91.75 L377.5,94.83 L378,97.59 L378.5,99.98 L379,101.94 L379.5,103.45 L380,104.47 L380.5,104.97 L381,104.96 L381.5,104.41 L382,103.36 L382.5,101.81 L383,99.81 L383.5,97.37 L384,94.56 L384.5,91.43 L385,88.04 L385.5,84.45 L386,80.74 L386.5,76.99 L387,73.25 L387.5,69.61 L388,66.14 L388.5,62.91 L389,59.98 L389.5,57.41 L390,55.25 L390.5,53.54 L391,52.31 L391.5,51.6 L392,51.41 L392.5,51.74 L393,52.6 L393.5,53.96 L394,55.79 L394.5,58.07 L395,60.74 L395.5,63.75 L396,67.04 L396.5,70.55 L397,74.2 L397.5,77.93 L398,81.65 L398.5,85.3 L399,88.8 L399.5,92.08 L400,95.07 L400.5,97.72 L401,99.98 L401.5,101.79 L402,103.12 L402.5,103.94 L403,104.25 L403.5,104.02 L404,103.26 L404.5,101.99 L405,100.23 L405.5,98.02 L406,95.39 L406.5,92.41 L407,89.13 L407.5,85.6 L408,81.91 L408.5,78.13 L409,74.32 L409.5,70.57 L410,66.94 L410.5,63.52 L411,60.36 L411.5,57.53 L412,55.09 L412.5,53.08 L413,51.54 L413.5,50.5 L414,49.99 L414.5,50.01 L415,50.56 L415.5,51.64 L416,53.21 L416.5,55.25 L417,57.72 L417.5,60.57 L418,63.74 L418.5,67.17 L419,70.79 L419.5,74.53 L420,78.31 L420.5,82.06 L421,85.71 L421.5,89.17 L422,92.39 L422.5,95.29 L423,97.82 L423.5,99.93 L424,101.57 L424.5,102.72 L425,103.34 L425.5,103.43 L426,102.99 L426.5,102.01 L427,100.52 L427.5,98.55 L428,96.14 L428.5,93.33 L429,90.18 L429.5,86.75 L430,83.1 L430.5,79.32 L431,75.47 L431.5,71.63 L432,67.87 L432.5,64.27 L433,60.9 L433.5,57.83 L434,55.11 L434.5,52.81 L435,50.96 L435.5,49.6 L436,48.76 L436.5,48.46 L437,48.7 L437.5,49.47 L438,50.77 L438.5,52.55 L439,54.8 L439.5,57.47 L440,60.49 L440.5,63.81 L441,67.37 L441.5,71.1 L442,74.91 L442.5,78.74 L443,82.5 L443.5,86.12 L444,89.54 L444.5,92.68 L445,95.47 L445.5,97.87 L446,99.82 L446.5,101.29 L447,102.24 L447.5,102.66 L448,102.53 L448.5,101.86 L449,100.67 L449.5,98.96 L450,96.78 L450.5,94.17 L451,91.18 L451.5,87.87 L452,84.3 L452.5,80.55 L453,76.68 L453.5,72.77 L454,68.91 L454.5,65.16 L455,61.6 L455.5,58.3" fill="none" stroke="#222" stroke-width="1.0" />
<line x1="296.8" y1="95" x2="296.8" y2="115.2" stroke="#000" stroke-width="1.1" />
<path d="M296.8,95.6 L300.3,101.4 L293.3,101.4 Z" fill="#fff" stroke="#000" stroke-width="0.95" stroke-linejoin="miter"/>
<line x1="296.8" y1="95.6" x2="296.8" y2="101.4" stroke="#000" stroke-width="0.8" />
<circle cx="296.8" cy="106.4" r="2.6" fill="#fff" stroke="#000" stroke-width="0.95"/>
<line x1="294.2" y1="106.4" x2="299.4" y2="106.4" stroke="#000" stroke-width="0.8" />
<line x1="300.4" y1="116" x2="300.4" y2="124.2" stroke="#000" stroke-width="1.1" />
<circle cx="300.4" cy="120.2" r="2.8" fill="#fff" stroke="#000" stroke-width="0.95"/>
<line x1="297.6" y1="120.2" x2="303.2" y2="120.2" stroke="#000" stroke-width="0.8" />
<line x1="300.4" y1="117.4" x2="300.4" y2="123" stroke="#000" stroke-width="0.8" />
<line x1="352" y1="89" x2="352" y2="97" stroke="#000" stroke-width="1.1" />
<circle cx="352" cy="92" r="2.6" fill="#fff" stroke="#000" stroke-width="0.95"/>
<line x1="349.4" y1="92" x2="354.6" y2="92" stroke="#000" stroke-width="0.8" />
<path d="M352,96.4 L354.9,101.6 L349.1,101.6 Z" fill="#fff" stroke="#000" stroke-width="0.95" stroke-linejoin="miter"/>
<line x1="352" y1="96.4" x2="352" y2="101.6" stroke="#000" stroke-width="0.8" />
<line x1="357.6" y1="98.2" x2="357.6" y2="104.8" stroke="#000" stroke-width="1.1" />
<circle cx="357.6" cy="101.4" r="2.5" fill="#fff" stroke="#000" stroke-width="0.95"/>
<line x1="355.1" y1="101.4" x2="360.1" y2="101.4" stroke="#000" stroke-width="0.8" />
<line x1="357.6" y1="98.9" x2="357.6" y2="103.9" stroke="#000" stroke-width="0.8" />
<line x1="442" y1="39.9" x2="442" y2="57.4" stroke="#000" stroke-width="1.1" />
<path d="M442,44.2 L444.9,49 L439.1,49 Z" fill="#fff" stroke="#000" stroke-width="0.95" stroke-linejoin="miter"/>
<line x1="442" y1="44.2" x2="442" y2="49" stroke="#000" stroke-width="0.8" />
<circle cx="442" cy="48.6" r="2.4" fill="#fff" stroke="#000" stroke-width="0.95"/>
<line x1="439.6" y1="48.6" x2="444.4" y2="48.6" stroke="#000" stroke-width="0.8" />
<circle cx="442" cy="53.4" r="2.5" fill="#fff" stroke="#000" stroke-width="0.95"/>
<line x1="439.5" y1="53.4" x2="444.5" y2="53.4" stroke="#000" stroke-width="0.8" />
<line x1="442" y1="50.9" x2="442" y2="55.9" stroke="#000" stroke-width="0.8" />
<line x1="509.4" y1="29.3" x2="509.4" y2="60.1" stroke="#000" stroke-width="1.1" />
<circle cx="509.4" cy="40.4" r="2.5" fill="#fff" stroke="#000" stroke-width="0.95"/>
<line x1="506.9" y1="40.4" x2="511.9" y2="40.4" stroke="#000" stroke-width="0.8" />
<circle cx="509.4" cy="45" r="2.5" fill="#fff" stroke="#000" stroke-width="0.95"/>
<line x1="506.9" y1="45" x2="511.9" y2="45" stroke="#000" stroke-width="0.8" />
<line x1="509.4" y1="42.5" x2="509.4" y2="47.5" stroke="#000" stroke-width="0.8" />
<path d="M509.4,47.6 L512.4,52.4 L506.4,52.4 Z" fill="#fff" stroke="#000" stroke-width="0.95" stroke-linejoin="miter"/>
<line x1="509.4" y1="47.6" x2="509.4" y2="52.4" stroke="#000" stroke-width="0.8" />
<line x1="556.4" y1="49.5" x2="556.4" y2="71.2" stroke="#000" stroke-width="1.1" />
<circle cx="556.4" cy="55.3" r="2.7" fill="#fff" stroke="#000" stroke-width="0.95"/>
<line x1="553.7" y1="55.3" x2="559.1" y2="55.3" stroke="#000" stroke-width="0.8" />
<circle cx="556.4" cy="65.4" r="2.7" fill="#fff" stroke="#000" stroke-width="0.95"/>
<line x1="553.7" y1="65.4" x2="559.1" y2="65.4" stroke="#000" stroke-width="0.8" />
<line x1="556.4" y1="62.7" x2="556.4" y2="68.1" stroke="#000" stroke-width="0.8" />
<line x1="586.7" y1="98.6" x2="586.7" y2="121.7" stroke="#000" stroke-width="1.1" />
<circle cx="586.7" cy="108.4" r="2.5" fill="#fff" stroke="#000" stroke-width="0.95"/>
<line x1="584.2" y1="108.4" x2="589.2" y2="108.4" stroke="#000" stroke-width="0.8" />
<path d="M586.7,109.4 L589.9,114.8 L583.5,114.8 Z" fill="#fff" stroke="#000" stroke-width="0.95" stroke-linejoin="miter"/>
<line x1="586.7" y1="109.4" x2="586.7" y2="114.8" stroke="#000" stroke-width="0.8" />
<line x1="282.9" y1="14.4" x2="295.7" y2="14.4" stroke="#000" stroke-width="1.15" />
<line x1="289.3" y1="12" x2="289.3" y2="16.8" stroke="#000" stroke-width="1.1" />
<circle cx="289.3" cy="14.4" r="2.1" fill="#fff" stroke="#000" stroke-width="1.1"/>
<line x1="287.2" y1="14.4" x2="291.4" y2="14.4" stroke="#000" stroke-width="0.8" />
<line x1="289.3" y1="12.3" x2="289.3" y2="16.5" stroke="#000" stroke-width="0.8" />
<line x1="284.7" y1="24.3" x2="294.5" y2="24.3" stroke="#000" stroke-width="1.15" />
<line x1="289.3" y1="20" x2="289.3" y2="28.8" stroke="#000" stroke-width="1.1" />
<circle cx="289.3" cy="24.3" r="2.1" fill="#fff" stroke="#000" stroke-width="1.1"/>
<line x1="287.2" y1="24.3" x2="291.4" y2="24.3" stroke="#000" stroke-width="0.8" />
<line x1="289.3" y1="22.2" x2="289.3" y2="26.4" stroke="#000" stroke-width="0.8" />
<line x1="282.9" y1="34.9" x2="295.7" y2="34.9" stroke="#000" stroke-width="1.15" />
<line x1="289.3" y1="30.8" x2="289.3" y2="39.2" stroke="#000" stroke-width="1.1" />
<path d="M289.3,31.4 L292,36.7 L286.6,36.7 Z" fill="#fff" stroke="#000" stroke-width="0.95" stroke-linejoin="miter"/>
<line x1="289.3" y1="31.4" x2="289.3" y2="36.7" stroke="#000" stroke-width="0.8" />
<text transform="translate(299.6,16.6) scale(0.8333,1)" font-size="9.6" font-weight="bold">H<tspan font-size="5.6" dy="2.6">2</tspan><tspan dy="-2.6">O</tspan></text>
<text transform="translate(299.2,26.3) scale(0.8333,1)" font-size="9.6" font-weight="bold">[C<tspan font-size="5.6" dy="2.6">2</tspan><tspan dy="-2.6">H</tspan><tspan font-size="5.6" dy="2.6">6</tspan><tspan dy="-2.6">]</tspan></text>
<text transform="translate(299,36.9) scale(0.8333,1)" font-size="9.6" font-weight="bold">[HCN]</text>
<text transform="translate(234.8,167.7) scale(1.12,1)" font-size="8.8" text-anchor="start" font-weight="normal" >(c)</text>
<text transform="translate(242.7,217.1) rotate(-90)" font-size="8" font-weight="bold" text-anchor="middle">Mixing ratios, %</text>
<line x1="268.2" y1="165.6" x2="268.2" y2="190.5" stroke="#1a1a1a" stroke-width="1.05" />
<line x1="268.2" y1="172.3" x2="271.2" y2="172.3" stroke="#1a1a1a" stroke-width="0.9" />
<text transform="translate(262.4,174.8) scale(0.8333,1)" font-size="9.6" text-anchor="end" font-weight="bold" >0.8</text>
<line x1="268.2" y1="179.8" x2="271.2" y2="179.8" stroke="#1a1a1a" stroke-width="0.9" />
<text transform="translate(262.4,182.8) scale(0.8333,1)" font-size="9.6" text-anchor="end" font-weight="bold" >0.7</text>
<line x1="268.2" y1="187.3" x2="271.2" y2="187.3" stroke="#1a1a1a" stroke-width="0.9" />
<text transform="translate(262.4,190.9) scale(0.8333,1)" font-size="9.6" text-anchor="end" font-weight="bold" >0.6</text>
<line x1="268.2" y1="201.7" x2="268.2" y2="226.2" stroke="#1a1a1a" stroke-width="1.05" />
<line x1="268.2" y1="207.6" x2="271.2" y2="207.6" stroke="#1a1a1a" stroke-width="0.9" />
<text transform="translate(262.4,210.6) scale(0.8333,1)" font-size="9.6" text-anchor="end" font-weight="bold" >0.3</text>
<line x1="268.2" y1="220.4" x2="271.2" y2="220.4" stroke="#1a1a1a" stroke-width="0.9" />
<text transform="translate(262.4,223.1) scale(0.8333,1)" font-size="9.6" text-anchor="end" font-weight="bold" >0.2</text>
<line x1="268.2" y1="233.2" x2="268.2" y2="258.2" stroke="#1a1a1a" stroke-width="1.05" />
<line x1="268.2" y1="236.5" x2="271.2" y2="236.5" stroke="#1a1a1a" stroke-width="0.9" />
<text transform="translate(262.4,239.4) scale(0.8333,1)" font-size="9.6" text-anchor="end" font-weight="bold" >4</text>
<line x1="268.2" y1="244.2" x2="271.2" y2="244.2" stroke="#1a1a1a" stroke-width="0.9" />
<text transform="translate(262.4,247.3) scale(0.8333,1)" font-size="9.6" text-anchor="end" font-weight="bold" >3</text>
<line x1="268.2" y1="252.3" x2="271.2" y2="252.3" stroke="#1a1a1a" stroke-width="0.9" />
<text transform="translate(262.4,254.9) scale(0.8333,1)" font-size="9.6" text-anchor="end" font-weight="bold" >2</text>
<line x1="269.4" y1="178.4" x2="598.6" y2="178.4" stroke="#000" stroke-width="1.05" stroke-dasharray="1.6 1.9"/>
<line x1="269.4" y1="213.7" x2="598.6" y2="213.7" stroke="#000" stroke-width="1.05" stroke-dasharray="1.1 2.5"/>
<line x1="269.4" y1="246.4" x2="598.6" y2="246.4" stroke="#000" stroke-width="1.05" stroke-dasharray="1.6 1.9"/>
<text transform="translate(394.3,172.6) scale(0.8333,1)" font-size="9.6" font-weight="bold">C<tspan font-size="5.6" dy="2.6">2</tspan><tspan dy="-2.6">H</tspan><tspan font-size="5.6" dy="2.6">6</tspan></text>
<text transform="translate(395,210) scale(0.8333,1)" font-size="9.6" text-anchor="start" font-weight="bold" >HCN</text>
<text transform="translate(391.5,242) scale(0.8333,1)" font-size="9.6" font-weight="bold">CH<tspan font-size="5.6" dy="2.6">3</tspan><tspan dy="-2.6">OH</tspan></text>
<line x1="300.3" y1="168.7" x2="300.3" y2="182.5" stroke="#000" stroke-width="1.1" />
<circle cx="300.3" cy="175" r="2.5" fill="#fff" stroke="#000" stroke-width="0.95"/>
<line x1="297.8" y1="175" x2="302.8" y2="175" stroke="#000" stroke-width="0.8" />
<line x1="300.3" y1="172.5" x2="300.3" y2="177.5" stroke="#000" stroke-width="0.8" />
<line x1="356.5" y1="174" x2="356.5" y2="178.8" stroke="#000" stroke-width="1.1" />
<circle cx="356.5" cy="176.3" r="2.5" fill="#fff" stroke="#000" stroke-width="0.95"/>
<line x1="354" y1="176.3" x2="359" y2="176.3" stroke="#000" stroke-width="0.8" />
<line x1="356.5" y1="173.8" x2="356.5" y2="178.8" stroke="#000" stroke-width="0.8" />
<line x1="441.5" y1="171.6" x2="441.5" y2="181.8" stroke="#000" stroke-width="1.1" />
<circle cx="441.5" cy="177" r="2.5" fill="#fff" stroke="#000" stroke-width="0.95"/>
<line x1="439" y1="177" x2="444" y2="177" stroke="#000" stroke-width="0.8" />
<line x1="441.5" y1="174.5" x2="441.5" y2="179.5" stroke="#000" stroke-width="0.8" />
<line x1="509.6" y1="172.4" x2="509.6" y2="189.1" stroke="#000" stroke-width="1.1" />
<circle cx="509.6" cy="180.8" r="2.5" fill="#fff" stroke="#000" stroke-width="0.95"/>
<line x1="507.1" y1="180.8" x2="512.1" y2="180.8" stroke="#000" stroke-width="0.8" />
<line x1="509.6" y1="178.3" x2="509.6" y2="183.3" stroke="#000" stroke-width="0.8" />
<line x1="556.6" y1="181.1" x2="556.6" y2="188.4" stroke="#000" stroke-width="1.1" />
<circle cx="556.6" cy="184" r="2.5" fill="#fff" stroke="#000" stroke-width="0.95"/>
<line x1="554.1" y1="184" x2="559.1" y2="184" stroke="#000" stroke-width="0.8" />
<line x1="556.6" y1="181.5" x2="556.6" y2="186.5" stroke="#000" stroke-width="0.8" />
<line x1="583.8" y1="171.6" x2="590.6" y2="171.6" stroke="#000" stroke-width="1.15" />
<line x1="587.3" y1="171.6" x2="587.3" y2="187" stroke="#000" stroke-width="1.15" />
<path d="M582.7,183.8 L587.3,192.3 L591.9,183.8 L587.3,186.2 Z" fill="#000"/>
<line x1="297.1" y1="201.9" x2="297.1" y2="216.3" stroke="#000" stroke-width="1.1" />
<path d="M297.1,205.8 L300.5,211.7 L293.7,211.7 Z" fill="#fff" stroke="#000" stroke-width="0.95" stroke-linejoin="miter"/>
<line x1="297.1" y1="205.8" x2="297.1" y2="211.7" stroke="#000" stroke-width="0.8" />
<path d="M352.4,213.9 L355.8,220.2 L349,220.2 Z" fill="#fff" stroke="#000" stroke-width="0.95" stroke-linejoin="miter"/>
<line x1="352.4" y1="213.9" x2="352.4" y2="220.2" stroke="#000" stroke-width="0.8" />
<path d="M441.7,208.5 L445.1,214.3 L438.3,214.3 Z" fill="#fff" stroke="#000" stroke-width="0.95" stroke-linejoin="miter"/>
<line x1="441.7" y1="208.5" x2="441.7" y2="214.3" stroke="#000" stroke-width="0.8" />
<path d="M509.6,212.8 L513,219.6 L506.2,219.6 Z" fill="#fff" stroke="#000" stroke-width="0.95" stroke-linejoin="miter"/>
<line x1="509.6" y1="212.8" x2="509.6" y2="219.6" stroke="#000" stroke-width="0.8" />
<line x1="587.4" y1="207.1" x2="587.4" y2="226.8" stroke="#000" stroke-width="1.1" />
<path d="M587.4,213 L590.8,219.3 L584,219.3 Z" fill="#fff" stroke="#000" stroke-width="0.95" stroke-linejoin="miter"/>
<line x1="587.4" y1="213" x2="587.4" y2="219.3" stroke="#000" stroke-width="0.8" />
<line x1="300.5" y1="243.4" x2="300.5" y2="252.1" stroke="#000" stroke-width="1.1" />
<rect x="298.2" y="244.9" width="4.6" height="4.6" fill="#fff" stroke="#000" stroke-width="0.95"/>
<line x1="298.2" y1="247.2" x2="302.8" y2="247.2" stroke="#000" stroke-width="0.8" />
<line x1="300.5" y1="244.9" x2="300.5" y2="249.5" stroke="#000" stroke-width="0.8" />
<rect x="354.3" y="241.2" width="4.6" height="4.6" fill="#fff" stroke="#000" stroke-width="0.95"/>
<line x1="354.3" y1="243.5" x2="358.9" y2="243.5" stroke="#000" stroke-width="0.8" />
<line x1="356.6" y1="241.2" x2="356.6" y2="245.8" stroke="#000" stroke-width="0.8" />
<rect x="439.5" y="247.9" width="4.6" height="4.6" fill="#fff" stroke="#000" stroke-width="0.95"/>
<line x1="439.5" y1="250.2" x2="444.1" y2="250.2" stroke="#000" stroke-width="0.8" />
<line x1="441.8" y1="247.9" x2="441.8" y2="252.5" stroke="#000" stroke-width="0.8" />
<line x1="509.4" y1="242" x2="509.4" y2="252.9" stroke="#000" stroke-width="1.1" />
<rect x="507.1" y="245.2" width="4.6" height="4.6" fill="#fff" stroke="#000" stroke-width="0.95"/>
<line x1="507.1" y1="247.5" x2="511.7" y2="247.5" stroke="#000" stroke-width="0.8" />
<line x1="509.4" y1="245.2" x2="509.4" y2="249.8" stroke="#000" stroke-width="0.8" />
<rect x="554.3" y="241.9" width="4.6" height="4.6" fill="#fff" stroke="#000" stroke-width="0.95"/>
<line x1="554.3" y1="244.2" x2="558.9" y2="244.2" stroke="#000" stroke-width="0.8" />
<line x1="556.6" y1="241.9" x2="556.6" y2="246.5" stroke="#000" stroke-width="0.8" />
<line x1="279.2" y1="265" x2="310.5" y2="265" stroke="#1a1a1a" stroke-width="1.05" />
<line x1="283.95" y1="265" x2="283.95" y2="263.5" stroke="#1a1a1a" stroke-width="0.9" />
<line x1="291.32" y1="265" x2="291.32" y2="263.5" stroke="#1a1a1a" stroke-width="0.9" />
<line x1="298.7" y1="265" x2="298.7" y2="262" stroke="#1a1a1a" stroke-width="0.9" />
<line x1="306.07" y1="265" x2="306.07" y2="263.5" stroke="#1a1a1a" stroke-width="0.9" />
<line x1="339.2" y1="265" x2="454.4" y2="265" stroke="#1a1a1a" stroke-width="1.05" />
<line x1="341.44" y1="265" x2="341.44" y2="263.5" stroke="#1a1a1a" stroke-width="0.9" />
<line x1="345.12" y1="265" x2="345.12" y2="263.5" stroke="#1a1a1a" stroke-width="0.9" />
<line x1="348.81" y1="265" x2="348.81" y2="263.5" stroke="#1a1a1a" stroke-width="0.9" />
<line x1="352.5" y1="265" x2="352.5" y2="262" stroke="#1a1a1a" stroke-width="0.9" />
<line x1="356.19" y1="265" x2="356.19" y2="263.5" stroke="#1a1a1a" stroke-width="0.9" />
<line x1="359.88" y1="265" x2="359.88" y2="263.5" stroke="#1a1a1a" stroke-width="0.9" />
<line x1="363.56" y1="265" x2="363.56" y2="263.5" stroke="#1a1a1a" stroke-width="0.9" />
<line x1="367.25" y1="265" x2="367.25" y2="263.5" stroke="#1a1a1a" stroke-width="0.9" />
<line x1="370.94" y1="265" x2="370.94" y2="263.5" stroke="#1a1a1a" stroke-width="0.9" />
<line x1="374.62" y1="265" x2="374.62" y2="263.5" stroke="#1a1a1a" stroke-width="0.9" />
<line x1="378.31" y1="265" x2="378.31" y2="263.5" stroke="#1a1a1a" stroke-width="0.9" />
<line x1="382" y1="265" x2="382" y2="262" stroke="#1a1a1a" stroke-width="0.9" />
<line x1="385.69" y1="265" x2="385.69" y2="263.5" stroke="#1a1a1a" stroke-width="0.9" />
<line x1="389.38" y1="265" x2="389.38" y2="263.5" stroke="#1a1a1a" stroke-width="0.9" />
<line x1="393.06" y1="265" x2="393.06" y2="263.5" stroke="#1a1a1a" stroke-width="0.9" />
<line x1="396.75" y1="265" x2="396.75" y2="263.5" stroke="#1a1a1a" stroke-width="0.9" />
<line x1="400.44" y1="265" x2="400.44" y2="263.5" stroke="#1a1a1a" stroke-width="0.9" />
<line x1="404.12" y1="265" x2="404.12" y2="263.5" stroke="#1a1a1a" stroke-width="0.9" />
<line x1="407.81" y1="265" x2="407.81" y2="263.5" stroke="#1a1a1a" stroke-width="0.9" />
<line x1="411.5" y1="265" x2="411.5" y2="262" stroke="#1a1a1a" stroke-width="0.9" />
<line x1="415.19" y1="265" x2="415.19" y2="263.5" stroke="#1a1a1a" stroke-width="0.9" />
<line x1="418.88" y1="265" x2="418.88" y2="263.5" stroke="#1a1a1a" stroke-width="0.9" />
<line x1="422.56" y1="265" x2="422.56" y2="263.5" stroke="#1a1a1a" stroke-width="0.9" />
<line x1="426.25" y1="265" x2="426.25" y2="263.5" stroke="#1a1a1a" stroke-width="0.9" />
<line x1="429.94" y1="265" x2="429.94" y2="263.5" stroke="#1a1a1a" stroke-width="0.9" />
<line x1="433.62" y1="265" x2="433.62" y2="263.5" stroke="#1a1a1a" stroke-width="0.9" />
<line x1="437.31" y1="265" x2="437.31" y2="263.5" stroke="#1a1a1a" stroke-width="0.9" />
<line x1="441" y1="265" x2="441" y2="262" stroke="#1a1a1a" stroke-width="0.9" />
<line x1="444.69" y1="265" x2="444.69" y2="263.5" stroke="#1a1a1a" stroke-width="0.9" />
<line x1="448.38" y1="265" x2="448.38" y2="263.5" stroke="#1a1a1a" stroke-width="0.9" />
<line x1="452.06" y1="265" x2="452.06" y2="263.5" stroke="#1a1a1a" stroke-width="0.9" />
<line x1="483.5" y1="265" x2="512" y2="265" stroke="#1a1a1a" stroke-width="1.05" />
<line x1="485.65" y1="265" x2="485.65" y2="263.5" stroke="#1a1a1a" stroke-width="0.9" />
<line x1="493.02" y1="265" x2="493.02" y2="263.5" stroke="#1a1a1a" stroke-width="0.9" />
<line x1="500.4" y1="265" x2="500.4" y2="262" stroke="#1a1a1a" stroke-width="0.9" />
<line x1="507.77" y1="265" x2="507.77" y2="263.5" stroke="#1a1a1a" stroke-width="0.9" />
<line x1="540.4" y1="265" x2="598" y2="265" stroke="#1a1a1a" stroke-width="1.05" />
<line x1="543.75" y1="265" x2="543.75" y2="263.5" stroke="#1a1a1a" stroke-width="0.9" />
<line x1="547.5" y1="265" x2="547.5" y2="263.5" stroke="#1a1a1a" stroke-width="0.9" />
<line x1="551.25" y1="265" x2="551.25" y2="263.5" stroke="#1a1a1a" stroke-width="0.9" />
<line x1="555" y1="265" x2="555" y2="262" stroke="#1a1a1a" stroke-width="0.9" />
<line x1="558.75" y1="265" x2="558.75" y2="263.5" stroke="#1a1a1a" stroke-width="0.9" />
<line x1="562.5" y1="265" x2="562.5" y2="263.5" stroke="#1a1a1a" stroke-width="0.9" />
<line x1="566.25" y1="265" x2="566.25" y2="263.5" stroke="#1a1a1a" stroke-width="0.9" />
<line x1="570" y1="265" x2="570" y2="263.5" stroke="#1a1a1a" stroke-width="0.9" />
<line x1="573.75" y1="265" x2="573.75" y2="263.5" stroke="#1a1a1a" stroke-width="0.9" />
<line x1="577.5" y1="265" x2="577.5" y2="263.5" stroke="#1a1a1a" stroke-width="0.9" />
<line x1="581.25" y1="265" x2="581.25" y2="263.5" stroke="#1a1a1a" stroke-width="0.9" />
<line x1="585" y1="265" x2="585" y2="262" stroke="#1a1a1a" stroke-width="0.9" />
<line x1="588.75" y1="265" x2="588.75" y2="263.5" stroke="#1a1a1a" stroke-width="0.9" />
<line x1="592.5" y1="265" x2="592.5" y2="263.5" stroke="#1a1a1a" stroke-width="0.9" />
<line x1="596.25" y1="265" x2="596.25" y2="263.5" stroke="#1a1a1a" stroke-width="0.9" />
<text transform="translate(300.8,273.1) scale(0.78,1)" font-size="9.6" text-anchor="middle" font-weight="bold" >18 Sep</text>
<text transform="translate(353,273.1) scale(0.78,1)" font-size="9.6" text-anchor="middle" font-weight="bold" >19 Oct</text>
<text transform="translate(441.3,273.1) scale(0.78,1)" font-size="9.6" text-anchor="middle" font-weight="bold" >22 Oct</text>
<text transform="translate(500.5,273.1) scale(0.78,1)" font-size="9.6" text-anchor="middle" font-weight="bold" >16 Nov</text>
<text transform="translate(555,273.1) scale(0.78,1)" font-size="9.6" text-anchor="middle" font-weight="bold" >16 Dec</text>
<text transform="translate(588.2,273.1) scale(0.78,1)" font-size="9.6" text-anchor="middle" font-weight="bold" >17 Dec</text>
</svg>
</body></html>
